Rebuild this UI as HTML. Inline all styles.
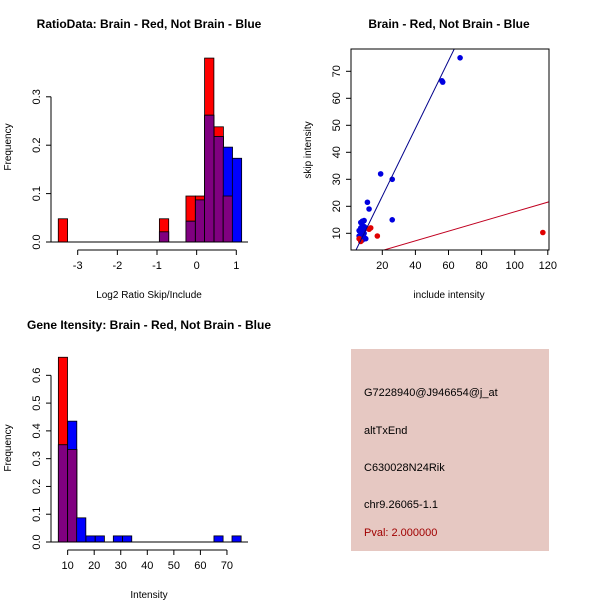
<!DOCTYPE html>
<html><head><meta charset="utf-8"><style>
body{margin:0;background:#fff}
svg text{font-family:"Liberation Sans",sans-serif}
</style></head><body>
<svg id="s" width="600" height="600" xmlns="http://www.w3.org/2000/svg">
<rect width="600" height="600" fill="#fff"/>
<text x="149" y="28" text-anchor="middle" font-size="12" font-weight="bold">RatioData: Brain - Red, Not Brain - Blue</text>
<text x="449" y="28" text-anchor="middle" font-size="12" font-weight="bold">Brain - Red, Not Brain - Blue</text>
<text x="149" y="329" text-anchor="middle" font-size="12" font-weight="bold">Gene Itensity: Brain - Red, Not Brain - Blue</text>
<text x="149" y="298" text-anchor="middle" font-size="10">Log2 Ratio Skip/Include</text>
<text x="11" y="147" text-anchor="middle" font-size="10" transform="rotate(-90 11 147)">Frequency</text>
<text x="449" y="298" text-anchor="middle" font-size="10">include intensity</text>
<text x="311" y="150" text-anchor="middle" font-size="10" transform="rotate(-90 311 150)">skip intensity</text>
<text x="149" y="598" text-anchor="middle" font-size="10">Intensity</text>
<text x="11" y="448" text-anchor="middle" font-size="10" transform="rotate(-90 11 448)">Frequency</text>
<rect x="351" y="349" width="198" height="202" fill="#e6c8c2"/>
<g font-size="11">
<text x="364" y="396">G7228940@J946654@j_at</text>
<text x="364" y="434">altTxEnd</text>
<text x="364" y="471">C630028N24Rik</text>
<text x="364" y="508">chr9.26065-1.1</text>
<text x="364" y="536" fill="#a00000">Pval: 2.000000</text>
</g>
</svg>
<script>
// Panel 1 data
const ratioBins=[-3.49,-0.94,-0.27,-0.03,0.2,0.44,0.67,0.9];
const ratioRed=[0.048,0.048,0.095,0.095,0.38,0.238,0.095,0];
const ratioBlue=[0,0.021,0.043,0.087,0.262,0.218,0.196,0.173];
const ratioXTicks=[-3,-2,-1,0,1];
const ratioYTicks=[0,0.1,0.2,0.3];
// Panel 2 data
const blueX=[67,56,56.5,19,26,26,11,12,8,9,7,8,9,10,7,8,6,7,9,8,7,6,8,9,10,7,8,9];
const blueY=[75,66.5,66,32,30,15,21.5,19,14.5,14.7,14,13,12.5,12,12,11,11,10.5,10,10,9.5,9,9,8.5,8,8,7.5,11.5];
const redX=[117,17,13,12,7,6];
const redY=[10.3,9,12,11.5,7,8];
const blueFit=[-1.34,1.254];
const redFit=[0.05,0.179];
const scatXTicks=[20,40,60,80,100,120];
const scatYTicks=[10,20,30,40,50,60,70];
// Panel 3 data
const intBins=[6.5,10,13.4,16.9,20.4,27.2,30.7,65.1,71.9];
const intRed=[0.665,0.333,0,0,0,0,0,0,0];
const intBlue=[0.35,0.435,0.087,0.022,0.022,0.022,0.022,0.022,0.022];
const intXTicks=[10,20,30,40,50,60,70];
const intYTicks=[0,0.1,0.2,0.3,0.4,0.5,0.6];

const S=document.getElementById('s'),NS='http://www.w3.org/2000/svg';
function mk(t,a,p){const e=document.createElementNS(NS,t);for(const k in a)e.setAttribute(k,a[k]);(p||S).appendChild(e);return e;}
function hist(bins,red,blue,w,sx,sy,name){
  const g=mk('g',{});
  
  
  bins.forEach((b,i)=>{
    const x0=sx(b),x1=sx(b+w);
    [[red[i],'#ff0000','red'],[blue[i],'#0000ff','blue'],[Math.min(red[i],blue[i]),'#800080','overlap']].forEach(([v,c,n])=>{
      if(v<=0)return;
      const r=mk('rect',{x:x0,y:sy(v),width:x1-x0,height:sy(0)-sy(v),fill:c,stroke:'#000','stroke-width':0.8},g);
      
      
    });
  });
}
function yaxis(x,ticks,sy,fmt,name){
  const g=mk('g',{});
  
  
  mk('line',{x1:x,x2:x,y1:sy(ticks[0]),y2:sy(ticks[ticks.length-1]),stroke:'#000'},g);
  ticks.forEach(t=>{const y=sy(t);mk('line',{x1:x-5,x2:x,y1:y,y2:y,stroke:'#000'},g);
    const tx=mk('text',{x:x-11,y:y,'font-size':11,'text-anchor':'middle',transform:`rotate(-90 ${x-11} ${y})`},g);tx.textContent=fmt(t);});
}
function xaxis(y,ticks,sx,name){
  const g=mk('g',{});
  
  
  mk('line',{x1:sx(ticks[0]),x2:sx(ticks[ticks.length-1]),y1:y,y2:y,stroke:'#000'},g);
  ticks.forEach(t=>{const x=sx(t);mk('line',{x1:x,x2:x,y1:y,y2:y+5,stroke:'#000'},g);
    const tx=mk('text',{x:x,y:y+19,'font-size':11,'text-anchor':'middle'},g);tx.textContent=t;});
}
// Panel 1
{const sx=v=>77.7+(v+3)*39.65, sy=v=>242-v*484;
hist(ratioBins,ratioRed,ratioBlue,0.235,sx,sy,'ratio');
mk('line',{x1:51,x2:248,y1:242,y2:242,stroke:'#000'});
yaxis(51,ratioYTicks,sy,v=>v.toFixed(1),'ratio-y-axis');
xaxis(250,ratioXTicks,sx,'ratio-x-axis');}
// Panel 2
{const sx=v=>349.2+v*1.655, sy=v=>260.3-v*2.7;
const cp=mk('clipPath',{id:'c2'});mk('rect',{x:351,y:49,width:198,height:201},cp);
const g=mk('g',{'clip-path':'url(#c2)'});


blueX.forEach((x,i)=>{const c=mk('circle',{cx:sx(x),cy:sy(blueY[i]),r:2.8,fill:'#0000e0'},g);
  
  });
redX.forEach((x,i)=>{const c=mk('circle',{cx:sx(x),cy:sy(redY[i]),r:2.8,fill:'#e00000'},g);
  
  });
const bl=mk('line',{x1:sx(0),y1:sy(blueFit[0]),x2:sx(130),y2:sy(blueFit[0]+blueFit[1]*130),stroke:'#00008b'},g);


const rl=mk('line',{x1:sx(0),y1:sy(redFit[0]),x2:sx(130),y2:sy(redFit[0]+redFit[1]*130),stroke:'#c00020'},g);


mk('rect',{x:351,y:49,width:198,height:201,fill:'none',stroke:'#000'});
yaxis(351,scatYTicks,sy,v=>v,'scatter-y-axis');
xaxis(250,scatXTicks,sx,'scatter-x-axis');}
// Panel 3
{const sx=v=>41.1+v*2.655, sy=v=>542-v*277.8;
hist(intBins,intRed,intBlue,3.45,sx,sy,'intensity');
mk('line',{x1:51,x2:248,y1:542,y2:542,stroke:'#000'});
yaxis(51,intYTicks,sy,v=>v.toFixed(1),'intensity-y-axis');
xaxis(550,intXTicks,sx,'intensity-x-axis');}
</script>
</body></html>
